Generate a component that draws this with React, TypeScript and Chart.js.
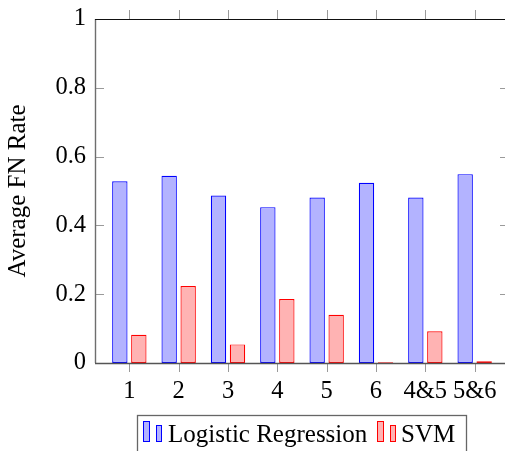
import { useEffect, useRef } from "react";
import { Chart, registerables } from "chart.js";

Chart.register(...registerables);

const categories = ["1", "2", "3", "4", "5", "6", "4&5", "5&6"];
const logisticRegression = [0.528, 0.544, 0.487, 0.453, 0.481, 0.524, 0.481, 0.549];
const svm = [0.082, 0.224, 0.054, 0.186, 0.14, 0.002, 0.092, 0.005];
const yTicks = [0, 0.2, 0.4, 0.6, 0.8, 1];
const seriesNames = ["Logistic Regression", "SVM"];
const yTitle = "Average FN Rate";

const FONT = "'Liberation Serif', 'Times New Roman', serif";
const BLUE_FILL = "#b3b3ff";
const BLUE_LINE = "#0000ff";
const RED_FILL = "#ffb3b3";
const RED_LINE = "#ff0000";

const framePlugin = {
  id: "frame",
  afterDatasetsDraw(chart: any) {
    const { ctx, chartArea, scales } = chart;
    const { left, right, top, bottom } = chartArea;
    const x = scales.x;
    const y = scales.y;
    ctx.save();
    ctx.strokeStyle = "#9a9a9a";
    ctx.lineWidth = 1;
    ctx.beginPath();
    categories.forEach((_, i) => {
      const px = Math.round(x.getPixelForValue(i + 1)) + 0.5;
      ctx.moveTo(px, bottom);
      ctx.lineTo(px, bottom + 9);
      ctx.moveTo(px, top);
      ctx.lineTo(px, top - 9);
    });
    yTicks.forEach((v) => {
      const py = Math.round(y.getPixelForValue(v)) + 0.5;
      ctx.moveTo(left, py);
      ctx.lineTo(left + 9, py);
      ctx.moveTo(right, py);
      ctx.lineTo(right - 9, py);
    });
    ctx.stroke();
    // frame
    ctx.lineWidth = 1.4;
    ctx.strokeStyle = "#6e6e6e";
    ctx.beginPath();
    ctx.moveTo(left + 0.5, top);
    ctx.lineTo(left + 0.5, bottom);
    ctx.moveTo(right - 0.5, top);
    ctx.lineTo(right - 0.5, bottom);
    ctx.stroke();
    ctx.strokeStyle = "#555";
    ctx.beginPath();
    ctx.moveTo(left, bottom + 0.5);
    ctx.lineTo(right, bottom + 0.5);
    ctx.stroke();
    ctx.strokeStyle = "#111";
    ctx.lineWidth = 1.2;
    ctx.beginPath();
    ctx.moveTo(left, top + 0.5);
    ctx.lineTo(right, top + 0.5);
    ctx.stroke();
    ctx.restore();
  },
  afterDraw(chart: any) {
    const { ctx } = chart;
    ctx.save();
    // legend box
    ctx.strokeStyle = "#666";
    ctx.lineWidth = 1.3;
    ctx.strokeRect(137.5, 415.5, 329, 60);
    const drawIcon = (x0: number, fill: string, line: string) => {
      ctx.fillStyle = fill;
      ctx.strokeStyle = line;
      ctx.lineWidth = 1;
      ctx.fillRect(x0, 421, 7, 21);
      ctx.strokeRect(x0 + 0.5, 421.5, 6, 20);
      ctx.fillRect(x0 + 13, 425, 6, 17);
      ctx.strokeRect(x0 + 13.5, 425.5, 5, 16);
    };
    drawIcon(143, BLUE_FILL, BLUE_LINE);
    drawIcon(377, RED_FILL, RED_LINE);
    ctx.fillStyle = "#000";
    ctx.font = `25px ${FONT}`;
    ctx.textBaseline = "alphabetic";
    ctx.textAlign = "left";
    ctx.fillText(seriesNames[0], 168, 442);
    ctx.fillText(seriesNames[1], 401, 442);
    ctx.restore();
  },
};

export default function App() {
  const ref = useRef<HTMLCanvasElement | null>(null);
  useEffect(() => {
    if (!ref.current) return;
    const chart = new Chart(ref.current, {
      type: "bar",
      data: {
        datasets: [
          {
            label: seriesNames[0],
            data: logisticRegression.map((v, i) => ({ x: i + 1, y: v })),
            backgroundColor: BLUE_FILL,
            borderColor: BLUE_LINE,
            borderWidth: 1.2,
            borderSkipped: false,
          },
          {
            label: seriesNames[1],
            data: svm.map((v, i) => ({ x: i + 1, y: v })),
            backgroundColor: RED_FILL,
            borderColor: RED_LINE,
            borderWidth: 1.2,
            borderSkipped: false,
          },
        ],
      },
      options: {
        animation: false,
        responsive: false,
        maintainAspectRatio: false,
        layout: { padding: { top: 19, right: 11, bottom: 0, left: 0 } },
        datasets: { bar: { categoryPercentage: 0.77, barPercentage: 0.81 } },
        plugins: { legend: { display: false }, tooltip: { enabled: false } },
        scales: {
          x: {
            type: "linear",
            min: 0.304,
            max: 8.696,
            offset: false,
            grid: { display: false, drawTicks: false },
            border: { display: false },
            afterBuildTicks(scale: any) {
              scale.ticks = categories.map((_, i) => ({ value: i + 1 }));
            },
            afterFit(scale: any) {
              scale.height = 88;
              scale.paddingLeft = 0;
              scale.paddingRight = 0;
            },
            ticks: {
              autoSkip: false,
              maxRotation: 0,
              padding: 14,
              color: "#000",
              font: { family: FONT, size: 24.5 },
              callback: (v: any) => categories[Math.round(Number(v)) - 1] ?? "",
            },
          },
          y: {
            min: 0,
            max: 1,
            grid: { display: false, drawTicks: false },
            border: { display: false },
            afterBuildTicks(scale: any) {
              scale.ticks = yTicks.map((v) => ({ value: v }));
            },
            afterFit(scale: any) {
              scale.width = 95;
              scale.paddingTop = 0;
              scale.paddingBottom = 0;
            },
            ticks: {
              padding: 9,
              color: "#000",
              font: { family: FONT, size: 24.5 },
              callback: (v: any) => String(Math.round(Number(v) * 10) / 10),
            },
            title: {
              display: true,
              text: yTitle,
              color: "#000",
              font: { family: FONT, size: 25 },
              padding: { top: 3, bottom: 0 },
            },
          },
        },
      },
      plugins: [framePlugin],
    });
    return () => chart.destroy();
  }, []);
  return (
    <div
      style={{
        position: "fixed",
        left: 0,
        top: 0,
        width: 505,
        height: 451,
        overflow: "hidden",
        background: "#fff",
      }}
    >
      <canvas ref={ref} width={520} height={451} style={{ width: 520, height: 451, display: "block" }} />
    </div>
  );
}
